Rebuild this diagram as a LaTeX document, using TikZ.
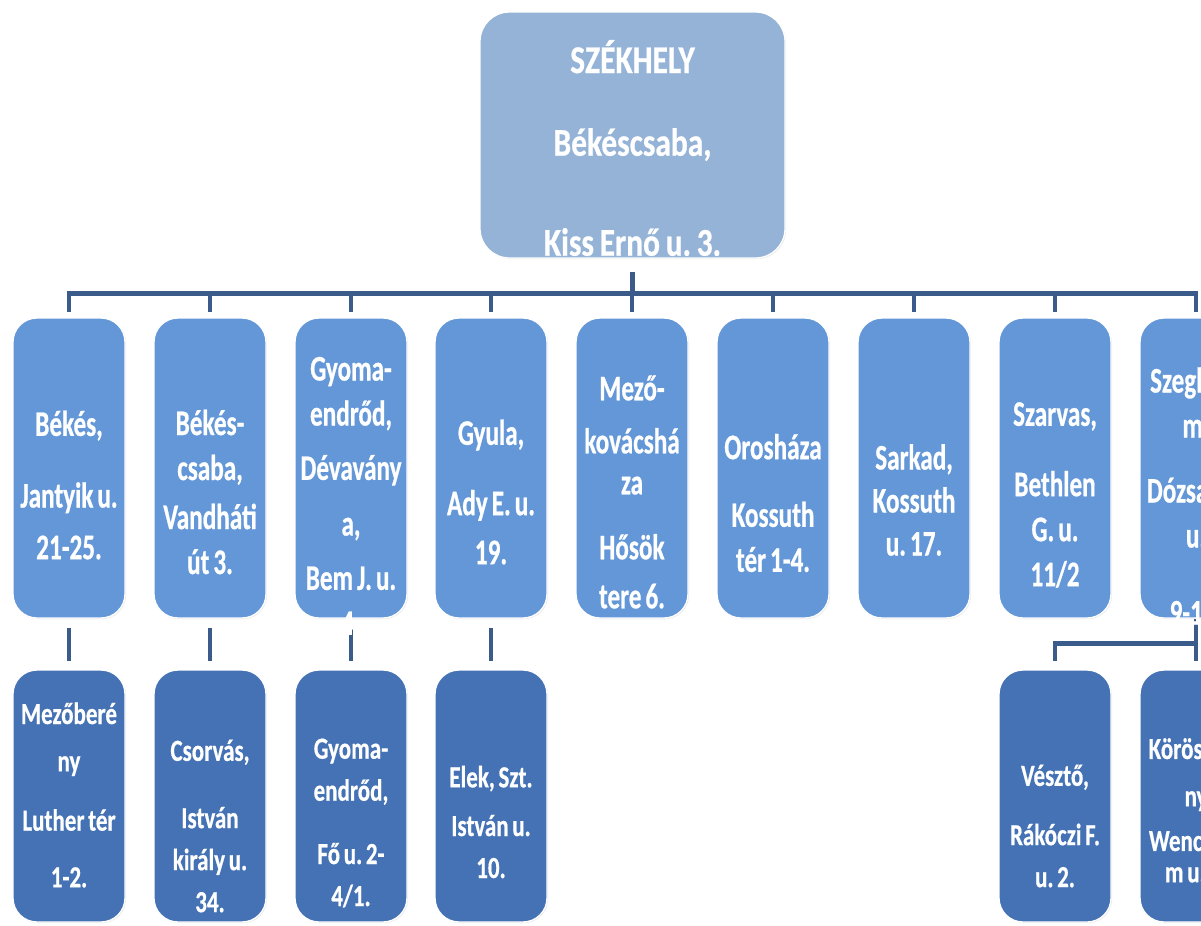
\documentclass[tikz,border=0pt]{standalone}
\usepackage{fontspec}
\newfontfamily\headfont{Carlito}[FakeStretch=0.8,FakeBold=0.6,WordSpace=0.8]
\newfontfamily\midfont{Carlito}[FakeStretch=0.7,FakeBold=0.6,WordSpace=0.7]
\newfontfamily\lowfont{Carlito}[FakeStretch=0.75,FakeBold=0.5,WordSpace=0.7]
\usetikzlibrary{backgrounds,shadows}
\frenchspacing

\definecolor{headblue}{RGB}{149,179,215}
\definecolor{midblue}{RGB}{99,151,215}
\definecolor{lowblue}{RGB}{68,114,180}
\definecolor{linkblue}{RGB}{59,92,138}

\tikzset{
    officebox/.style={draw=white, line width=1pt,
        drop shadow={opacity=0.18, shadow xshift=0.8pt, shadow yshift=-0.8pt}},
    headbox/.style={officebox, fill=headblue, rounded corners=22pt,
        minimum width=228.75pt, minimum height=184.5pt},
    midbox/.style={officebox, fill=midblue, rounded corners=18pt,
        minimum width=84pt, minimum height=225pt},
    lowbox/.style={officebox, fill=lowblue, rounded corners=18pt,
        minimum width=84pt, minimum height=189pt},
    headtext/.style={text=white, align=center, inner sep=0pt,
        font=\headfont\bfseries\fontsize{29.5}{36}\selectfont},
    midtext/.style={text=white, align=center, inner sep=0pt,
        font=\midfont\bfseries\fontsize{27}{33.75}\selectfont},
    lowtext/.style={text=white, align=center, inner sep=0pt,
        font=\lowfont\bfseries\fontsize{23}{31.5}\selectfont},
    link/.style={draw=linkblue, line width=3.5pt, shorten >=4pt}
}

\begin{document}
\begin{tikzpicture}[x=0.75pt,y=-0.75pt]
    \useasboundingbox (0,0) rectangle (1201,925);
    \clip (0,0) rectangle (1201,925);

    % head office
    \node[headbox] (szekhely) at (632.5,135) {};
    \node[headtext] (szekhely-t) at (632.5,148)
        {SZÉKHELY\\[26pt]Békéscsaba,\\[39pt]Kiss Ernő u. 3.};

    % branch offices
    \foreach \x/\name/\ty/\text in {
        69/bekes/485/{Békés,\\[20pt]Jantyik u.\\[5pt]21-25.},
        210/bcsaba/492/{Békés-\\csaba,\\[3pt]Vandháti\\út 3.},
        351/gyoma/496/{Gyoma-\\endrőd,\\[7pt]Dévavány\\[8pt]a,\\[7pt]Bem J. u.\\4.},
        491/gyula/492/{Gyula,\\[19pt]Ady E. u.\\[3pt]19.},
        632/mezokovacshaza/492/{Mező-\\[6pt]kovácshá\\[-3pt]za\\[15pt]Hősök\\[3pt]tere 6.},
        773/oroshaza/503/{Orosháza\\[17pt]Kossuth\\tér 1-4.},
        914/sarkad/500/{Sarkad,\\[-1.5pt]Kossuth\\[-1.5pt]u. 17.},
        1055/szarvas/495/{Szarvas,\\[19pt]Bethlen\\G. u.\\11/2},
        1196/szeghalom/496/{Szeghalo\\m,\\[15pt]Dózsa Gy.\\u.\\[24pt]9-13.}}
    {
        \node[midbox] (\name) at (\x,468) {};
        \node[midtext] (\name-t) at (\x,\ty) {\text};
    }

    % sub-branches
    \foreach \x/\name/\ty/\text in {
        69/mezobereny/795/{Mezőberé\\[4pt]ny\\[13pt]Luther tér\\[11pt]1-2.},
        210/csorvas/826/{Csorvás,\\[19pt]István\\király u.\\34.},
        351/gyomaendrod/823/{Gyoma-\\endrőd,\\[16pt]Fő u. 2-\\4/1.},
        491/elek/822/{Elek, Szt.\\[5pt]István u.\\10.},
        1055/veszto/826/{Vésztő,\\[13pt]Rákóczi F.\\u. 2.},
        1196/korosladany/810/{Körösladá\\[4pt]ny\\[2pt]Wenckhei\\[-8pt]m u. 6.}}
    {
        \node[lowbox] (\name) at (\x,796) {};
        \node[lowtext] (\name-t) at (\x,\ty) {\text};
    }

    \begin{scope}[on background layer]
        \foreach \name in {bekes,bcsaba,gyoma,gyula,mezokovacshaza,oroshaza,sarkad,szarvas,szeghalom}
            \draw[link, shorten <=10pt] (szekhely.south) -- ++(0,35) -| (\name.north);
        \foreach \up/\down in {bekes/mezobereny,bcsaba/csorvas,gyoma/gyomaendrod,gyula/elek}
            \draw[link, shorten <=7pt, shorten >=6pt] (\up.south) -- (\down.north);
        \draw[link, shorten >=6pt] (szeghalom.south) -- ++(0,25) -| (veszto.north);
        \draw[link, shorten >=6pt] (szeghalom.south) -- (korosladany.north);
    \end{scope}
\end{tikzpicture}
\end{document}
